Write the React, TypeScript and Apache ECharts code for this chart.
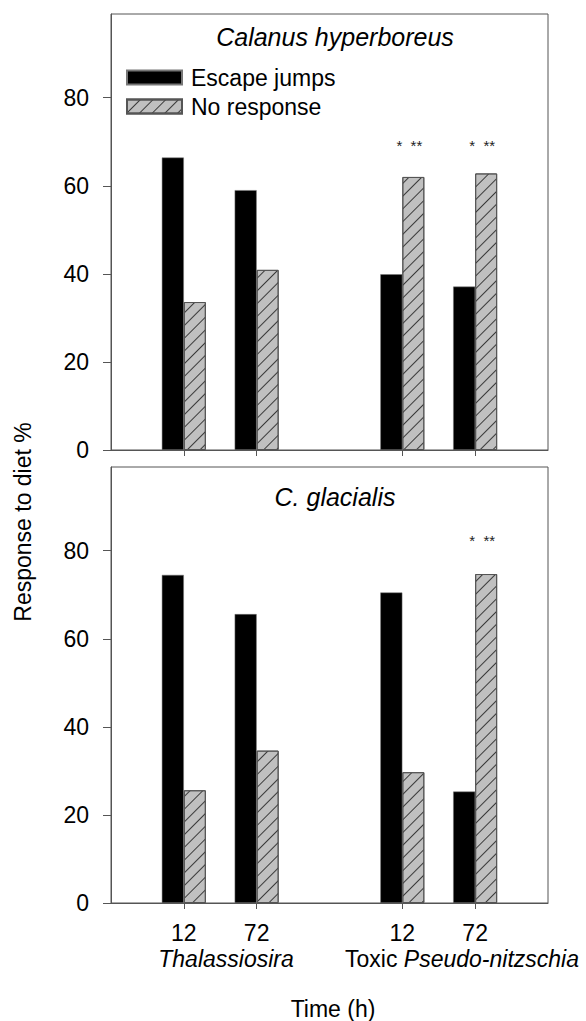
import React, { useEffect, useRef } from 'react';
import * as echarts from 'echarts';

const categories = ['', '12', '72', '', '12', '72', ''];
const seriesNames = ['Escape jumps', 'No response'];
const panelTitles = ['Calanus hyperboreus', 'C. glacialis'];
const hyperEscape = [null, 66.4, 59.0, null, 39.9, 37.1, null];
const hyperNoResp = [null, 33.6, 40.9, null, 62.0, 62.8, null];
const glacEscape = [null, 74.5, 65.6, null, 70.5, 25.3, null];
const glacNoResp = [null, 25.6, 34.6, null, 29.7, 74.7, null];
const yTicks = [0, 20, 40, 60, 80];
const sigHyper = [4, 5];
const sigGlac = [5];
const sigText = '*  **';
const groupLabels = ['{i|Thalassiosira}', 'Toxic {i|Pseudo-nitzschia}'];
const xName = 'Time (h)';
const yName = 'Response to diet %';

const FONT = '"Liberation Sans", Arial, Helvetica, sans-serif';
const AXIS = '#555';

export default function App() {
  const ref = useRef<HTMLDivElement>(null);
  useEffect(() => {
    document.body.style.margin = '0';
    const chart = echarts.init(ref.current!, null, { renderer: 'svg' });
    const hatch = {
      symbol: 'rect',
      symbolSize: 1,
      dashArrayX: [1, 0],
      dashArrayY: [1, 7.5],
      rotation: -Math.PI / 4,
      color: '#3a3a3a',
    };
    const escStyle = { color: '#000', borderColor: '#777', borderWidth: 0.5 };
    const noStyle = { color: '#c0c0c0', borderColor: '#555', borderWidth: 1, decal: hatch };
    const xAxisBase = (gridIndex: number, showLabels: boolean) => ({
      type: 'category',
      gridIndex,
      data: categories,
      boundaryGap: false,
      axisLine: { lineStyle: { color: AXIS, width: 1 } },
      axisTick: {
        interval: (_i: number, v: string) => v !== '',
        length: 6,
        lineStyle: { color: AXIS },
      },
      axisLabel: {
        show: showLabels,
        interval: 0,
        margin: 18,
        fontSize: 23,
        fontFamily: FONT,
        color: '#000',
      },
    });
    const yAxisBase = (gridIndex: number) => ({
      type: 'value',
      gridIndex,
      min: 0,
      max: 99,
      interval: 20,
      splitLine: { show: false },
      axisLine: { show: true, lineStyle: { color: AXIS, width: 1 } },
      axisTick: { show: true, length: 8, customValues: yTicks, lineStyle: { color: AXIS } },
      axisLabel: { customValues: yTicks, margin: 22, fontSize: 23, fontFamily: FONT, color: '#000' },
    });
    const sigMark = (idx: number[], y: number) => ({
      symbol: 'circle',
      symbolSize: 0,
      silent: true,
      label: {
        show: true,
        position: 'inside',
        formatter: sigText,
        fontSize: 15,
        fontFamily: FONT,
        color: '#222',
        offset: [-4, 0],
      },
      data: idx.map((i) => ({ coord: [i, y] })),
    });
    const titleStyle = { fontStyle: 'italic', fontWeight: 'normal', fontSize: 25, fontFamily: FONT, color: '#000' };
    const richItalic = { i: { fontStyle: 'italic', fontSize: 23, fontFamily: FONT } };
    chart.setOption({
      animation: false,
      backgroundColor: '#fff',
      title: [
        { text: panelTitles[0], left: 330, top: 19, textAlign: 'center', textStyle: titleStyle },
        { text: panelTitles[1], left: 330, top: 479, textAlign: 'center', textStyle: titleStyle },
      ],
      legend: {
        orient: 'vertical',
        left: 121,
        top: 61,
        icon: 'rect',
        itemWidth: 55,
        itemHeight: 14,
        itemGap: 6,
        selectedMode: false,
        data: seriesNames,
        textStyle: { fontSize: 23, fontFamily: FONT, color: '#000', padding: [0, 0, 0, 4] },
      },
      grid: [
        { left: 111, top: 14, width: 437, height: 436, show: true, borderColor: AXIS, borderWidth: 1, backgroundColor: 'transparent' },
        { left: 111, top: 467, width: 437, height: 436, show: true, borderColor: AXIS, borderWidth: 1, backgroundColor: 'transparent' },
      ],
      xAxis: [xAxisBase(0, false), xAxisBase(1, true)],
      yAxis: [yAxisBase(0), yAxisBase(1)],
      series: [
        { name: seriesNames[0], type: 'bar', xAxisIndex: 0, yAxisIndex: 0, data: hyperEscape, barWidth: 22, barGap: '0%', itemStyle: escStyle },
        {
          name: seriesNames[1], type: 'bar', xAxisIndex: 0, yAxisIndex: 0, data: hyperNoResp, barWidth: 22, barGap: '0%', itemStyle: noStyle,
          markPoint: sigMark(sigHyper, 69.2),
        },
        { name: seriesNames[0], type: 'bar', xAxisIndex: 1, yAxisIndex: 1, data: glacEscape, barWidth: 22, barGap: '0%', itemStyle: escStyle },
        {
          name: seriesNames[1], type: 'bar', xAxisIndex: 1, yAxisIndex: 1, data: glacNoResp, barWidth: 22, barGap: '0%', itemStyle: noStyle,
          markPoint: sigMark(sigGlac, 82.2),
        },
      ],
      graphic: [
        {
          type: 'text', x: 226, y: 959,
          style: { text: groupLabels[0], align: 'center', verticalAlign: 'middle', fontSize: 23, fontFamily: FONT, fill: '#000', rich: richItalic },
        },
        {
          type: 'text', x: 462, y: 959,
          style: { text: groupLabels[1], align: 'center', verticalAlign: 'middle', fontSize: 23, fontFamily: FONT, fill: '#000', rich: richItalic },
        },
        {
          type: 'text', x: 333, y: 1009,
          style: { text: xName, align: 'center', verticalAlign: 'middle', fontSize: 23, fontFamily: FONT, fill: '#000' },
        },
        {
          type: 'text', x: 23, y: 522, rotation: Math.PI / 2,
          style: { text: yName, align: 'center', verticalAlign: 'middle', fontSize: 23, fontFamily: FONT, fill: '#000' },
        },
      ],
    });
    return () => chart.dispose();
  }, []);
  return <div ref={ref} style={{ width: 586, height: 1021 }} />;
}
